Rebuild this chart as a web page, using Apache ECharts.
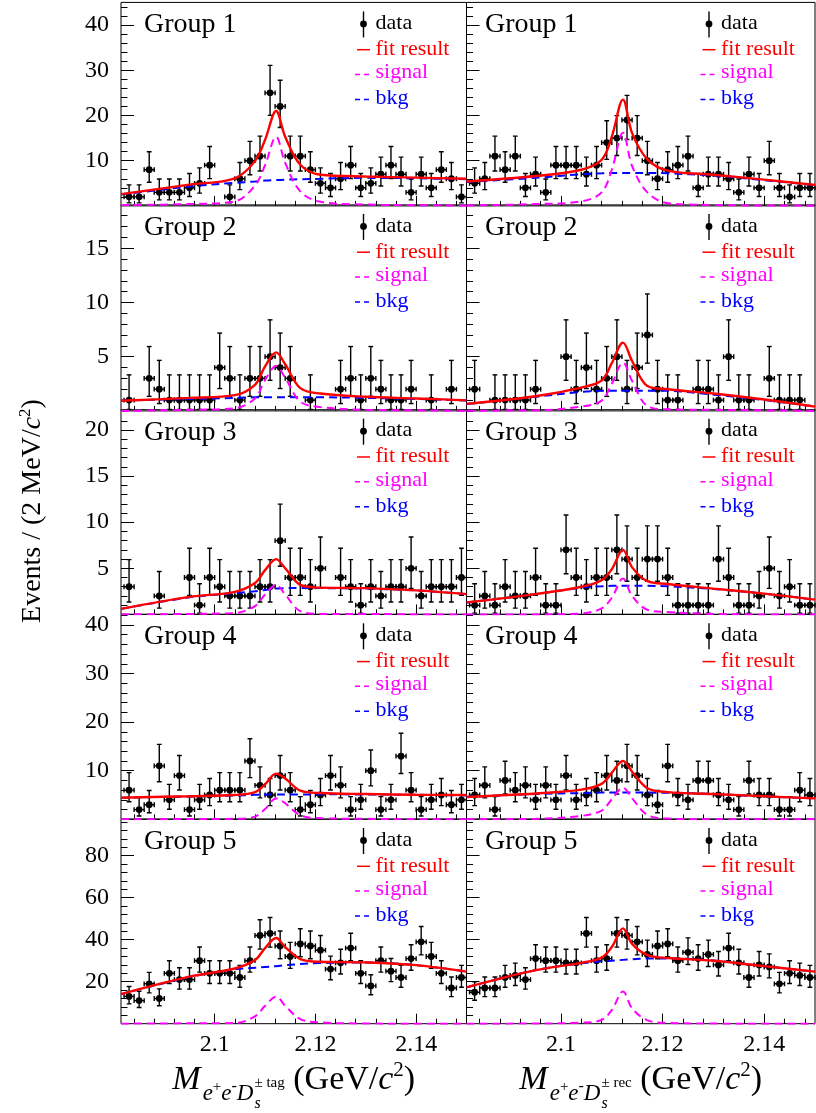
<!DOCTYPE html>
<html>
<head>
<meta charset="utf-8">
<title>Group fits</title>
<script src="https://cdn.jsdelivr.net/npm/echarts@6.0.0/dist/echarts.min.js"></script>
<style>
  html, body { margin: 0; padding: 0; background: #fff; }
  #main { width: 816px; height: 1113px; }
</style>
</head>
<body>
<div id="main"></div>
<script>
var FONT = '"Liberation Serif", "Times New Roman", serif';

// histogram binning (2 MeV bins), axis range
var firstBinCenter = 2.083;
var binWidth = 0.002;
var xMin = 2.0814, xMax = 2.15;

// axis ticks
var xTickLabels = [2.1, 2.12, 2.14];
var xMinorStep = 0.004;
var rowYMax = [45, 19, 22.2, 42.2, 97.5];
var rowYTicks = [[10, 20, 30, 40], [5, 10, 15], [5, 10, 15, 20], [10, 20, 30, 40], [20, 40, 60, 80]];
var rowYMinorStep = [2, 1, 1, 2, 4];

var groupNames = ['Group 1', 'Group 2', 'Group 3', 'Group 4', 'Group 5'];

// x positions where the fit curves were read
var curveX = [2.0814, 2.095, 2.104, 2.108, 2.110, 2.1122, 2.114, 2.117, 2.121, 2.13, 2.14, 2.15];

// ---- Group 1
var g1TagData = [2, 2, 8, 3, 3, 3, 4, 5, 9, null, 2, 6, 10, 11, 25, 22, 11, 11, 8, 5, 4, 6, 9, 4, 5, 7, 9, 7, 3, 7, 4, 8, 6, 2];
var g1TagBkg = [2.5, 4.3, 5.1, 5.4, 5.6, 5.7, 5.8, 5.9, 6.0, 6.2, 6.1, 5.9];
var g1TagSig = [0.2, 0.4, 1.0, 4.5, 9.0, 15.3, 9.5, 3.2, 0.9, 0.3, 0.15, 0.1];
var g1TagFit = [2.6, 4.7, 6.1, 9.9, 14.6, 21.0, 15.3, 9.1, 6.9, 6.5, 6.25, 6.0];

var g1RecData = [5, 6, 11, 8, 11, 4, 7, 3, 9, 9, 9, 7, 9, 14, 15, 19, 15, 10, 6, 8, 9, 11, 4, 7, 7, 6, 3, 7, 4, 10, 4, 2, 4, 4];
var g1RecBkg = [5.3, 6.2, 7.0, 7.2, 7.3, 7.3, 7.3, 7.3, 7.2, 6.7, 5.7, 4.6];
var g1RecSig = [0.1, 0.4, 1.0, 3.0, 8.0, 16.2, 8.8, 3.0, 0.6, 0.2, 0.1, 0.05];
var g1RecFit = [5.4, 6.6, 8.0, 10.2, 15.3, 23.5, 16.1, 10.3, 7.8, 6.9, 5.8, 4.65];

// ---- Group 2
var g2TagData = [1, null, 3, 2, 1, 1, 1, 1, 1, 4, 3, 1, 3, 3, 5, 4, 3, null, 1, null, null, 2, 3, 1, 3, 2, 1, 1, 2, null, 1, null, 2, null];
var g2TagBkg = [0.95, 1.1, 1.2, 1.25, 1.25, 1.25, 1.25, 1.25, 1.25, 1.2, 1.1, 0.97];
var g2TagSig = [0, 0.1, 0.25, 1.15, 2.85, 4.15, 3.05, 0.85, 0.35, 0.1, 0.05, 0];
var g2TagFit = [0.93, 1.2, 1.45, 2.4, 4.1, 5.4, 4.3, 2.1, 1.6, 1.3, 1.15, 0.97];

var g2RecData = [2, null, 1, 1, 1, 1, 2, null, null, 5, 2, 4, 2, 3, 5, 2, 4, 7, 2, 1, 1, null, 2, 2, 1, 5, 1, 1, null, 3, 1, 1, 1, null];
var g2RecBkg = [0.63, 1.3, 1.75, 1.85, 1.87, 1.87, 1.87, 1.87, 1.85, 1.5, 1.0, 0.4];
var g2RecSig = [0.02, 0.05, 0.4, 0.95, 2.5, 4.45, 2.75, 0.45, 0.15, 0.1, 0.05, 0];
var g2RecFit = [0.65, 1.35, 2.15, 2.8, 4.4, 6.3, 4.6, 2.3, 2.0, 1.6, 1.05, 0.4];

// ---- Group 3
var g3TagData = [3, null, null, 2, null, null, 4, 1, 4, 3, 2, 2, 2, 3, 3, 8, 4, 4, 3, 5, null, 4, 3, 1, 3, 2, 3, 3, 5, 2, 3, 3, 3, 4];
var g3TagBkg = [0.6, 1.85, 2.3, 2.5, 2.65, 2.8, 2.85, 2.85, 2.85, 2.8, 2.6, 2.2];
var g3TagSig = [0, 0.05, 0.15, 0.9, 2.15, 3.2, 2.15, 0.35, 0.05, 0.05, 0, 0];
var g3TagFit = [0.6, 1.9, 2.45, 3.4, 4.8, 6.0, 5.0, 3.2, 2.9, 2.85, 2.6, 2.2];

var g3RecData = [1, 2, 1, 3, 2, 2, 4, 1, 1, 7, 4, 3, 4, 4, 7, 6, 4, 6, 6, 4, 1, 1, 1, 1, 6, 4, 1, 1, 2, 5, 2, 3, 1, 1];
var g3RecBkg = [1.3, 2.2, 2.9, 3.05, 3.1, 3.1, 3.1, 3.1, 3.05, 2.75, 2.25, 1.6];
var g3RecSig = [0, 0, 0.1, 0.65, 1.8, 3.9, 2.0, 0.5, 0.25, 0.05, 0, 0];
var g3RecFit = [1.3, 2.2, 3.0, 3.7, 4.9, 7.0, 5.1, 3.6, 3.3, 2.8, 2.25, 1.6];

// ---- Group 4
var g4TagData = [6, 2, 3, 11, 4, 9, 2, 4, 5, 6, 6, 6, 12, 7, 5, 9, 6, 2, 3, 5, 9, 7, 2, 4, 10, 2, 4, 13, 6, 2, 4, 5, 3, 4];
var g4TagBkg = [4.45, 4.7, 4.9, 5.05, 5.1, 5.1, 5.1, 5.1, 5.15, 5.1, 5.05, 4.9];
var g4TagSig = [0, 0.05, 0.1, 0.55, 2.1, 4.3, 3.3, 0.8, 0.25, 0.1, 0, 0];
var g4TagFit = [4.45, 4.75, 5.0, 5.6, 7.2, 9.4, 8.4, 5.9, 5.4, 5.2, 5.05, 5.0];

var g4RecData = [5, 7, 2, 8, 6, 7, 4, 7, 4, 9, 4, 5, 6, 9, 8, 11, 9, 5, 3, 11, 5, 4, 8, 8, 5, 4, 2, 8, 5, 5, 2, 2, 6, 5];
var g4RecBkg = [4.6, 5.2, 5.4, 5.5, 5.5, 5.5, 5.5, 5.5, 5.45, 5.2, 4.7, 4.3];
var g4RecSig = [0, 0.1, 0.7, 1.8, 4.1, 6.5, 4.3, 0.9, 0.15, 0, 0, 0];
var g4RecFit = [4.6, 5.3, 6.1, 7.3, 9.6, 12.0, 9.8, 6.4, 5.6, 5.2, 4.75, 4.3];

// ---- Group 5
var g5TagData = [13, 11, 19, 12, 24, 21, 21, 30, 24, 24, 24, 22, 30, 42, 43, 37, 32, 38, 37, 35, 26, 29, 36, 24, 18, 30, 25, 22, 31, 39, 32, 24, 17, 22];
var g5TagBkg = [14.1, 22.2, 25.9, 26.6, 27.0, 27.4, 27.9, 28.4, 28.9, 29.2, 27.9, 24.8];
var g5TagSig = [0, 0.2, 0.3, 3.5, 8.5, 12.9, 8.5, 2.2, 0.6, 0.1, 0, 0];
var g5TagFit = [14.1, 22.4, 26.3, 30.3, 36.0, 40.8, 36.5, 30.8, 29.5, 29.2, 27.9, 24.8];

var g5RecData = [15, 17, 17, 22, 23, 21, 31, 30, 30, 29, 29, 43, 30, 31, 43, 42, 39, 33, 37, 38, 30, 34, 31, 33, 28, 36, 29, 22, 28, 27, 19, 24, 23, 22];
var g5RecBkg = [17.3, 25.5, 28.8, 29.7, 30.0, 30.4, 30.7, 31.1, 31.1, 30.1, 27.4, 24.8];
var g5RecSig = [0, 0.1, 0.5, 1.8, 6.5, 15.3, 7.3, 1.6, 0.4, 0.05, 0, 0];
var g5RecFit = [17.3, 25.5, 29.0, 31.5, 36.5, 45.4, 38.0, 32.7, 31.3, 30.0, 27.4, 24.8];

var panels = [
    { data: g1TagData, bkg: g1TagBkg, sig: g1TagSig, fit: g1TagFit },
    { data: g1RecData, bkg: g1RecBkg, sig: g1RecSig, fit: g1RecFit },
    { data: g2TagData, bkg: g2TagBkg, sig: g2TagSig, fit: g2TagFit },
    { data: g2RecData, bkg: g2RecBkg, sig: g2RecSig, fit: g2RecFit },
    { data: g3TagData, bkg: g3TagBkg, sig: g3TagSig, fit: g3TagFit },
    { data: g3RecData, bkg: g3RecBkg, sig: g3RecSig, fit: g3RecFit },
    { data: g4TagData, bkg: g4TagBkg, sig: g4TagSig, fit: g4TagFit },
    { data: g4RecData, bkg: g4RecBkg, sig: g4RecSig, fit: g4RecFit },
    { data: g5TagData, bkg: g5TagBkg, sig: g5TagSig, fit: g5TagFit },
    { data: g5RecData, bkg: g5RecBkg, sig: g5RecSig, fit: g5RecFit }
];

// layout of the pads
var colLeft = [121, 466.5], colWidth = [345.5, 348.5];
var rowTop = [2.4, 204.9, 409.7, 614.3, 819], rowHeight = [203.5, 206, 204.7, 205, 204.7];

var RED = '#ff0000', MAGENTA = '#ff00ff', BLUE = '#0000ff';

// approximate poisson interval (lower, upper) for a count
function poissonErr(n) {
    return [Math.sqrt(n - 0.25), Math.sqrt(n + 0.75) + 1];
}

function minorValues(step, lo, hi, majors) {
    var out = [];
    for (var k = Math.ceil(lo / step - 1e-9); k * step <= hi + 1e-9; k++) {
        var v = +(k * step).toFixed(4);
        if (v <= lo || v >= hi) continue;
        if (majors.indexOf(v) < 0) out.push(v);
    }
    return out;
}

var xMinorTicks = minorValues(xMinorStep, xMin, xMax, xTickLabels);

function renderPoint(params, api) {
    var x = api.value(0), y = api.value(1), lo = api.value(2), hi = api.value(3);
    var p = api.coord([x, y]);
    var pl = api.coord([x - binWidth / 2, y]);
    var pr = api.coord([x + binWidth / 2, y]);
    var pt = api.coord([x, y + hi]);
    var pb = api.coord([x, y - lo]);
    var cap = 2.4;
    function seg(x1, y1, x2, y2) {
        return { type: 'line', shape: { x1: x1, y1: y1, x2: x2, y2: y2 }, style: { stroke: '#000', lineWidth: 1.4 } };
    }
    return {
        type: 'group',
        children: [
            seg(pl[0], p[1], pr[0], p[1]),
            seg(pl[0], p[1] - cap, pl[0], p[1] + cap),
            seg(pr[0], p[1] - cap, pr[0], p[1] + cap),
            seg(p[0], pt[1], p[0], pb[1]),
            seg(p[0] - cap, pt[1], p[0] + cap, pt[1]),
            seg(p[0] - cap, pb[1], p[0] + cap, pb[1]),
            { type: 'circle', shape: { cx: p[0], cy: p[1], r: 3.4 }, style: { fill: '#000' } }
        ]
    };
}

var measureCtx = document.createElement('canvas').getContext('2d');
function textWidth(t, size, italic) {
    measureCtx.font = (italic ? 'italic ' : '') + size + 'px ' + FONT;
    return measureCtx.measureText(t).width;
}

function textEl(t, x, y, size, color, italic, align) {
    return {
        type: 'text', x: x, y: y, z: 100, silent: true,
        style: {
            text: t, fontSize: size, fontFamily: FONT, fontStyle: italic ? 'italic' : 'normal',
            fill: color, align: align || 'left', verticalAlign: 'middle'
        }
    };
}

// lay out a row of text pieces (sub/superscripts) centred at cx, on a baseline
function pieceRow(pieces, cx, baseline) {
    var x = 0, prevStart = 0, placed = [];
    pieces.forEach(function(p) {
        var w = textWidth(p.t, p.s, p.it);
        var start = p.stack ? prevStart : x;
        placed.push({ p: p, start: start });
        x = p.stack ? Math.max(x, start + w) : start + w + (p.gap || 0);
        prevStart = start;
    });
    var off = cx - x / 2;
    return placed.map(function(q) {
        var p = q.p;
        return textEl(p.t, off + q.start, baseline + (p.dy || 0) - 0.32 * p.s, p.s, '#000', p.it);
    });
}

function massTitle(tag) {
    return [
        { t: 'M', s: 34, it: true, gap: 2 },
        { t: 'e', s: 23, it: true, dy: 10 },
        { t: '+', s: 15, dy: 1 },
        { t: 'e', s: 23, it: true, dy: 10 },
        { t: '-', s: 16, dy: 1 },
        { t: 'D', s: 23, it: true, dy: 10, gap: 1 },
        { t: 's', s: 16, it: true, dy: 18 },
        { t: '\u00b1 ' + tag, s: 15, dy: -3, stack: true },
        { t: ' (GeV/', s: 34 },
        { t: 'c', s: 34, it: true },
        { t: '2', s: 21, dy: -14 },
        { t: ')', s: 34 }
    ];
}

var option = {
    animation: false,
    backgroundColor: '#fff',
    grid: [], xAxis: [], yAxis: [], series: [],
    graphic: { elements: [] }
};
var els = option.graphic.elements;

panels.forEach(function(pn, i) {
    var r = Math.floor(i / 2), c = i % 2;
    option.grid.push({
        left: colLeft[c], top: rowTop[r], width: colWidth[c], height: rowHeight[r],
        show: true, borderColor: '#000', borderWidth: 1, backgroundColor: 'transparent'
    });

    var fmt = function(v) { return String(+(+v).toFixed(3)); };
    option.xAxis.push({
        gridIndex: i, type: 'value', min: xMin, max: xMax, position: 'bottom',
        axisLine: { show: false }, splitLine: { show: false },
        axisTick: { show: true, inside: true, length: 10, customValues: xTickLabels, lineStyle: { color: '#000', width: 1 } },
        axisLabel: {
            show: r === 4, customValues: xTickLabels, formatter: fmt,
            color: '#000', fontFamily: FONT, fontSize: 24, margin: 9
        }
    });
    option.xAxis.push({
        gridIndex: i, type: 'value', min: xMin, max: xMax, position: 'bottom',
        axisLine: { show: false }, splitLine: { show: false },
        axisTick: { show: true, inside: true, length: 5, customValues: xMinorTicks, lineStyle: { color: '#000', width: 1 } },
        axisLabel: { show: false }
    });
    option.yAxis.push({
        gridIndex: i, type: 'value', min: 0, max: rowYMax[r], position: 'left',
        axisLine: { show: false }, splitLine: { show: false },
        axisTick: { show: true, inside: true, length: 13, customValues: rowYTicks[r], lineStyle: { color: '#000', width: 1 } },
        axisLabel: {
            show: c === 0, customValues: rowYTicks[r],
            color: '#000', fontFamily: FONT, fontSize: 24, margin: 12
        }
    });
    option.yAxis.push({
        gridIndex: i, type: 'value', min: 0, max: rowYMax[r], position: 'left',
        axisLine: { show: false }, splitLine: { show: false },
        axisTick: {
            show: true, inside: true, length: 6.5,
            customValues: minorValues(rowYMinorStep[r], 0, rowYMax[r], rowYTicks[r]),
            lineStyle: { color: '#000', width: 1 }
        },
        axisLabel: { show: false }
    });

    var pts = [];
    pn.data.forEach(function(n, k) {
        if (n == null) return;
        var e = poissonErr(n);
        pts.push([firstBinCenter + k * binWidth, n, e[0], e[1]]);
    });
    option.series.push({
        type: 'custom', name: 'data', xAxisIndex: 2 * i, yAxisIndex: 2 * i,
        renderItem: renderPoint, data: pts, clip: true, silent: true, z: 2
    });

    function curve(name, arr, color, dash, width) {
        return {
            type: 'line', name: name, xAxisIndex: 2 * i, yAxisIndex: 2 * i,
            data: curveX.map(function(x, k) { return [x, arr[k]]; }),
            smooth: 0.35, showSymbol: false, symbol: 'none', silent: true, z: 3,
            lineStyle: { color: color, width: width, type: dash }
        };
    }
    option.series.push(curve('bkg', pn.bkg, BLUE, [8, 5], 2));
    option.series.push(curve('signal', pn.sig, MAGENTA, [8, 5], 2));
    option.series.push(curve('fit result', pn.fit, RED, 'solid', 2.4));

    // group label and legend inside the pad
    var gx = colLeft[c], gy = rowTop[r];
    els.push(textEl(groupNames[r], c === 0 ? 144 : 485, gy + 22.5, 28, '#000', false));
    var mx = gx + 242.5, tx = gx + 254.5;
    els.push({ type: 'line', z: 100, silent: true, shape: { x1: mx, y1: gy + 9, x2: mx, y2: gy + 35 }, style: { stroke: '#000', lineWidth: 1.4 } });
    els.push({ type: 'circle', z: 100, silent: true, shape: { cx: mx, cy: gy + 21.5, r: 3.4 }, style: { fill: '#000' } });
    els.push(textEl('data', tx, gy + 21, 22, '#000'));
    els.push({ type: 'line', z: 100, silent: true, shape: { x1: gx + 236, y1: gy + 47.3, x2: gx + 249, y2: gy + 47.3 }, style: { stroke: RED, lineWidth: 1.5 } });
    els.push(textEl('fit result', tx, gy + 47, 22, RED));
    els.push({ type: 'line', z: 100, silent: true, shape: { x1: gx + 234, y1: gy + 72, x2: gx + 251, y2: gy + 72 }, style: { stroke: MAGENTA, lineWidth: 1.5, lineDash: [5, 4] } });
    els.push(textEl('signal', tx, gy + 70.3, 22, MAGENTA));
    els.push({ type: 'line', z: 100, silent: true, shape: { x1: gx + 234, y1: gy + 97, x2: gx + 251, y2: gy + 97 }, style: { stroke: BLUE, lineWidth: 1.5, lineDash: [5, 4] } });
    els.push(textEl('bkg', tx, gy + 96.3, 22, BLUE));
});

// axis titles
pieceRow(massTitle('tag'), colLeft[0] + colWidth[0] / 2, 1091).forEach(function(e) { els.push(e); });
pieceRow(massTitle('rec'), colLeft[1] + colWidth[1] / 2, 1091).forEach(function(e) { els.push(e); });

els.push({
    type: 'group', x: 33, y: 511, rotation: Math.PI / 2, z: 100, silent: true,
    children: pieceRow([
        { t: 'Events / (2 MeV/', s: 28 },
        { t: 'c', s: 28, it: true },
        { t: '2', s: 17, dy: -11 },
        { t: ')', s: 28 }
    ], 0, 9)
});

var chart = echarts.init(document.getElementById('main'));
chart.setOption(option);
</script>
</body>
</html>
